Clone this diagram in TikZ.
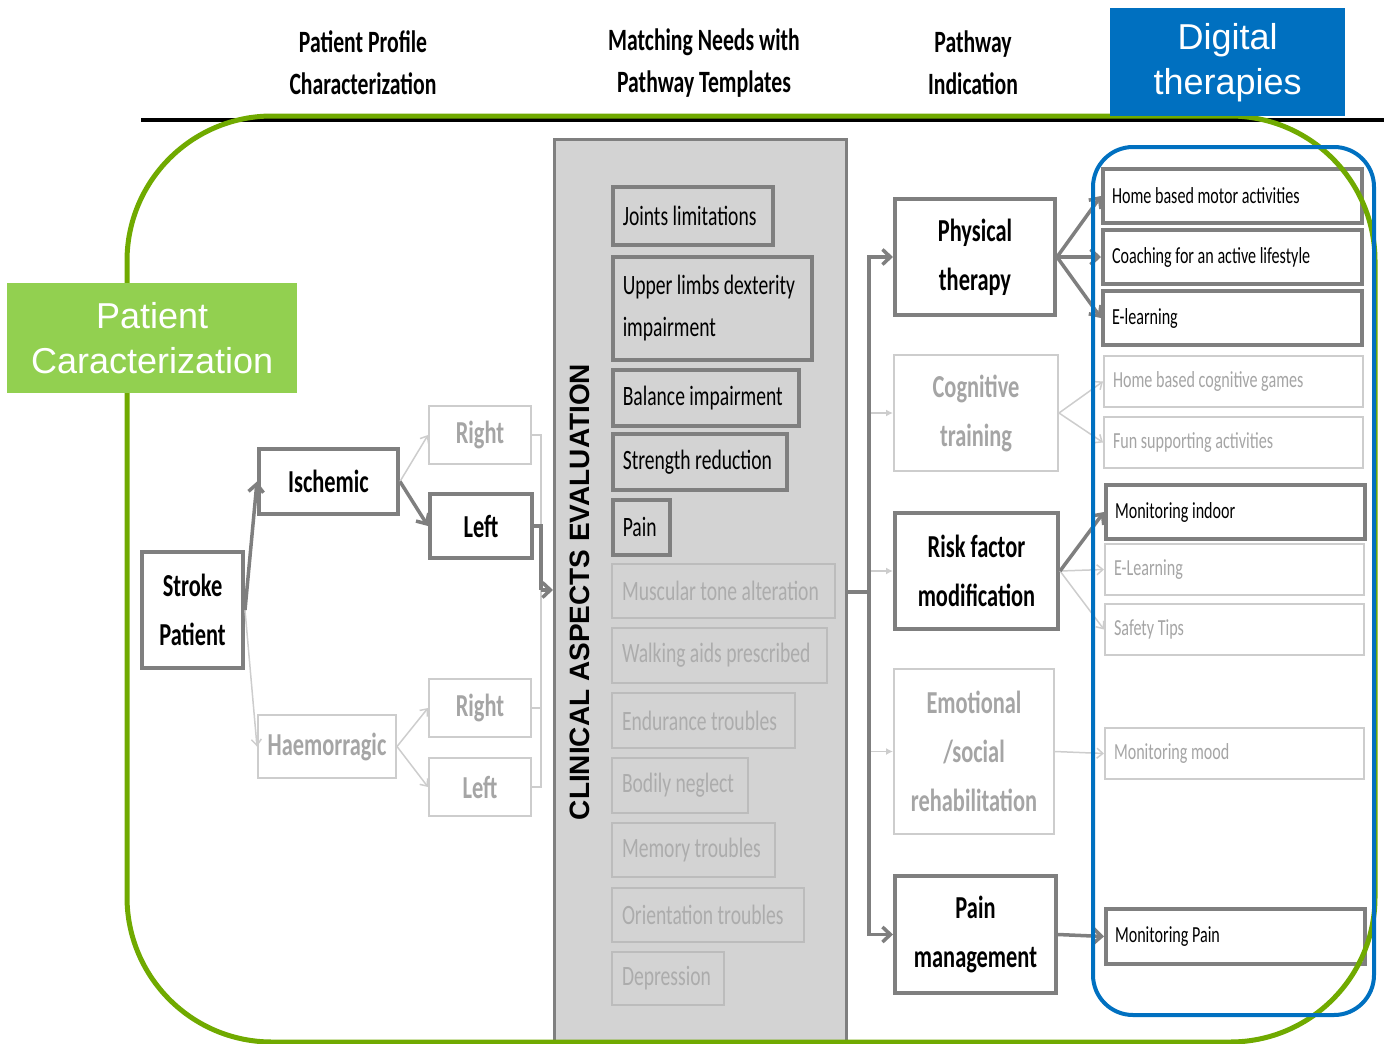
\documentclass[tikz,border=0pt]{standalone}
\usepackage{fontspec}
\setmainfont{Carlito}[FakeStretch=0.7]
\newfontfamily\arialfont{Liberation Sans}
\usetikzlibrary{arrows.meta, positioning, calc}

\definecolor{framegray}{RGB}{127,127,127}
\definecolor{palegray}{RGB}{205,205,205}
\definecolor{paletext}{RGB}{165,165,165}
\definecolor{panelfill}{RGB}{211,211,211}
\definecolor{panelline}{RGB}{188,188,188}
\definecolor{paneltext}{RGB}{172,172,172}
\definecolor{accentblue}{RGB}{0,112,192}
\definecolor{accentgreen}{RGB}{146,208,80}
\definecolor{outlinegreen}{RGB}{112,170,0}

\newcommand\szhead{\fontsize{31}{42}\selectfont\bfseries}
\newcommand\szbig{\fontsize{32}{49}\selectfont\bfseries}
\newcommand\szmid{\fontsize{28}{42}\selectfont}
\newcommand\szrow{\fontsize{23}{28}\selectfont}
\hyphenpenalty=10000

\begin{document}
\begin{tikzpicture}[
  x=1pt, y=-1pt,
  stagebox/.style={rectangle, draw=framegray, line width=4pt, fill=white, anchor=north west, inner sep=0pt, align=flush center, font=\szbig},
  stagefaint/.style={rectangle, draw=palegray, line width=2pt, fill=white, text=paletext, anchor=north west, inner sep=0pt, align=flush center, font=\szbig},
  needbox/.style={rectangle, draw=framegray, line width=3.5pt, anchor=north west, inner xsep=10pt, inner ysep=0pt, align=flush left, font=\szmid},
  needfaint/.style={rectangle, draw=panelline, line width=2pt, text=paneltext, anchor=north west, inner xsep=10pt, inner ysep=0pt, align=flush left, font=\szmid},
  therapy/.style={rectangle, draw=framegray, line width=4pt, fill=white, anchor=north west, inner xsep=9pt, inner ysep=0pt, align=flush left, font=\szrow, text width=241pt},
  therapyfaint/.style={rectangle, draw=palegray, line width=2pt, fill=white, text=paletext, anchor=north west, inner xsep=9pt, inner ysep=0pt, align=flush left, font=\szrow, text width=241pt},
  arr/.style={-{Straight Barb[length=8pt,width=15pt]}, line width=3.5pt, draw=framegray},
  thinarr/.style={-{Straight Barb[length=6pt,width=10pt]}, line width=1.5pt, draw=palegray},
  tinyarr/.style={-{Latex[length=7pt,width=7pt]}, line width=1.5pt, draw=palegray, fill=paletext},
  link/.style={line width=3.5pt, draw=framegray},
  thinlink/.style={line width=1.5pt, draw=palegray}
]
  \useasboundingbox (0,0) rectangle (1384,1044);

  % column headings
  \draw[line width=3.5pt] (141,120) -- (1384,120);
  \node[font=\szhead, align=flush center] (head1) at (363,63) {Patient Profile\\Characterization};
  \node[font=\szhead, align=flush center] (head2) at (704,63) {Matching Needs with\\Pathway Templates};
  \node[font=\szhead, align=flush center] (head3) at (973,63) {Pathway\\Indication};

  % patient profile
  \node[stagebox, minimum width=101pt, minimum height=116pt] (stroke) at (140,550) {Stroke\\Patient};
  \node[stagebox, minimum width=139pt, minimum height=65pt] (isch) at (257,447) {Ischemic};
  \node[stagefaint, minimum width=138pt, minimum height=63pt] (haem) at (257,714) {Haemorragic};
  \node[stagefaint, minimum width=102pt, minimum height=58pt] (rightI) at (428,405) {Right};
  \node[stagebox, minimum width=102pt, minimum height=64pt] (leftI) at (428,492) {Left};
  \node[stagefaint, minimum width=102pt, minimum height=58pt] (rightH) at (428,678) {Right};
  \node[stagefaint, minimum width=102pt, minimum height=58pt] (leftH) at (428,757) {Left};

  \draw[thinarr] (stroke.east) -- (haem.west);
  \draw[arr] (stroke.east) -- (isch.west);
  \draw[thinarr] (isch.east) -- (rightI.west);
  \draw[arr] (isch.east) -- (leftI.west);
  \draw[thinarr] (haem.east) -- (rightH.west);
  \draw[thinarr] (haem.east) -- (leftH.west);

  % clinical aspects panel
  \node[rectangle, draw=framegray, line width=3pt, fill=panelfill, anchor=north west, minimum width=292pt, minimum height=920pt] (panel) at (553,138) {};
  \node[rotate=90, font=\arialfont\bfseries\fontsize{28}{30}\selectfont] (panellabel) at (580,592) {CLINICAL ASPECTS EVALUATION};

  \node[needbox, text width=140pt, minimum height=58pt] (ca1) at (611,185) {Joints limitations};
  \node[needbox, text width=179pt, minimum height=103pt] (ca2) at (611,255) {Upper limbs dexterity\\impairment};
  \node[needbox, text width=166pt, minimum height=56pt] (ca3) at (611,368) {Balance impairment};
  \node[needbox, text width=154pt, minimum height=56pt] (ca4) at (611,432) {Strength reduction};
  \node[needbox, text width=37pt, minimum height=55pt] (ca5) at (611,498) {Pain};
  \node[needfaint, text width=203pt, minimum height=54pt] (ca6) at (611,563) {Muscular tone alteration};
  \node[needfaint, text width=195pt, minimum height=55pt] (ca7) at (611,627) {Walking aids prescribed};
  \node[needfaint, text width=163pt, minimum height=55pt] (ca8) at (611,692) {Endurance troubles};
  \node[needfaint, text width=116pt, minimum height=55pt] (ca9) at (611,757) {Bodily neglect};
  \node[needfaint, text width=143pt, minimum height=54pt] (ca10) at (611,822) {Memory troubles};
  \node[needfaint, text width=172pt, minimum height=54pt] (ca11) at (611,887) {Orientation troubles};
  \node[needfaint, text width=92pt, minimum height=53pt] (ca12) at (611,951) {Depression};

  \coordinate (busL) at (541,590);
  \draw[thinlink] (rightI.east) -| (busL);
  \draw[thinlink] (rightH.east) -| (busL);
  \draw[thinlink] (leftH.east) -| (busL);
  \draw[link] (leftI.east) -| (busL);
  \draw[arr] (busL) -- (busL -| panel.west);

  % pathway indication
  \node[stagebox, minimum width=160pt, minimum height=116pt] (phys) at (893,197) {Physical\\therapy};
  \node[stagefaint, minimum width=164pt, minimum height=116pt] (cogn) at (893,354) {Cognitive\\training};
  \node[stagebox, minimum width=163pt, minimum height=116pt] (risk) at (893,511) {Risk factor\\modification};
  \node[stagefaint, minimum width=160pt, minimum height=165pt] (emo) at (893,668) {Emotional\\/social\\rehabilitation};
  \node[stagebox, minimum width=161pt, minimum height=117pt] (pain) at (893,874) {Pain\\management};

  \coordinate (busR) at (869,592);
  \draw[link] (busR -| panel.east) -- (busR);
  \draw[tinyarr] (busR |- cogn.west) -- (cogn.west);
  \draw[tinyarr] (busR |- risk.west) -- (risk.west);
  \draw[tinyarr] (busR |- emo.west) -- (emo.west);
  \draw[arr] (busR) |- (phys.west);
  \draw[arr] (busR) |- (pain.west);

  % digital therapies
  \node[therapy, minimum height=54pt] (dt1) at (1101,167) {Home based motor activities};
  \node[therapy, minimum height=54pt] (dt2) at (1101,228) {Coaching for an active lifestyle};
  \node[therapy, minimum height=54pt] (dt3) at (1101,289) {E-learning};
  \node[therapyfaint, minimum height=51pt] (dt4) at (1103,355) {Home based cognitive games};
  \node[therapyfaint, minimum height=51pt] (dt5) at (1103,416) {Fun supporting activities};
  \node[therapy, minimum height=54pt] (dt6) at (1104,483) {Monitoring indoor};
  \node[therapyfaint, minimum height=51pt] (dt7) at (1104,543) {E-Learning};
  \node[therapyfaint, minimum height=51pt] (dt8) at (1104,603) {Safety Tips};
  \node[therapyfaint, minimum height=51pt] (dt9) at (1104,727) {Monitoring mood};
  \node[therapy, minimum height=55pt] (dt10) at (1104,907) {Monitoring Pain};

  \draw[arr] (phys.east) -- (dt1.west);
  \draw[arr] (phys.east) -- (dt2.west);
  \draw[arr] (phys.east) -- (dt3.west);
  \draw[thinarr] (cogn.east) -- (dt4.west);
  \draw[thinarr] (cogn.east) -- (dt5.west);
  \draw[thinarr] (risk.east) -- (dt7.west);
  \draw[thinarr] (risk.east) -- (dt8.west);
  \draw[arr] (risk.east) -- (dt6.west);
  \draw[thinarr] (emo.east) -- (dt9.west);
  \draw[arr] (pain.east) -- (dt10.west);

  % outlines and tags
  \draw[outlinegreen, line width=5pt, rounded corners=145pt] (127,116) rectangle (1375,1042);
  \draw[accentblue, line width=4pt, rounded corners=40pt] (1093,147) rectangle (1374,1015);
  \node[fill=accentgreen, text=white, anchor=north west, minimum width=290pt, minimum height=110pt, inner sep=0pt, align=flush center, font=\arialfont\fontsize{36}{45}\selectfont] (pcar) at (7,283) {Patient\\Caracterization};
  \node[fill=accentblue, text=white, anchor=north west, minimum width=235pt, minimum height=108pt, inner sep=0pt, align=flush center, font=\arialfont\fontsize{36}{45}\selectfont] (digi) at (1110,8) {Digital\\therapies};
\end{tikzpicture}
\end{document}
